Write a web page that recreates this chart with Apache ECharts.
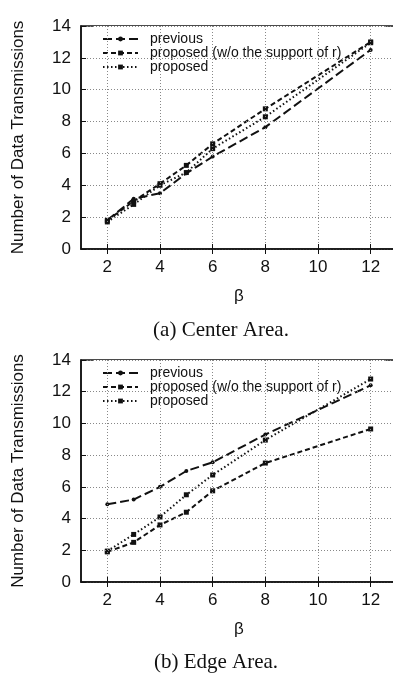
<!DOCTYPE html>
<html>
<head>
<meta charset="utf-8">
<script src="https://cdn.jsdelivr.net/npm/echarts@6/dist/echarts.min.js"></script>
<style>
  html, body { margin: 0; padding: 0; background: #fff; }
  #chart { width: 393px; height: 673px; }
</style>
</head>
<body>
<div id="chart"></div>
<script>
const betas = [2, 3, 4, 5, 6, 8, 12];
const xTicks = [2, 4, 6, 8, 10, 12];
const seriesNames = ['previous', 'proposed (w/o the support of r)', 'proposed'];

// (a) Center Area
const centerPrevious = [1.8, 3.15, 3.5, 4.75, 5.8, 7.65, 12.5];
const centerWithoutR = [1.8, 3.0, 4.1, 5.25, 6.6, 8.8, 13.0];
const centerProposed = [1.7, 2.8, 4.0, 4.8, 6.3, 8.3, 12.95];

// (b) Edge Area
const edgePrevious = [4.9, 5.2, 6.0, 7.0, 7.55, 9.3, 12.4];
const edgeWithoutR = [1.9, 2.5, 3.6, 4.4, 5.75, 7.5, 9.65];
const edgeProposed = [1.95, 3.0, 4.1, 5.5, 6.75, 8.95, 12.8];

const sans = '"Liberation Sans", Arial, sans-serif';
const serif = '"Liberation Serif", "Times New Roman", serif';

const looks = [
  {dash: [9, 4], symbol: 'circle', size: 4},
  {dash: [5, 3], symbol: 'rect', size: 5},
  {dash: [1.5, 2.5], symbol: 'rect', size: 5}
];

function pairs(ys) {
  return betas.map((x, i) => [x, ys[i]]);
}

function bottomAxis(g) {
  return {
    gridIndex: g, type: 'value', min: 1, max: 13, position: 'bottom', z: 3,
    name: 'β', nameLocation: 'middle', nameGap: 39,
    nameTextStyle: {fontSize: 17, color: '#111', fontFamily: sans},
    axisLine: {show: true, onZero: false, lineStyle: {color: '#111', width: 1.5}},
    axisTick: {show: true, inside: true, length: 5, customValues: xTicks, lineStyle: {color: '#111'}},
    axisLabel: {customValues: xTicks, margin: 10, fontSize: 17, color: '#111', fontFamily: sans},
    splitLine: {show: true, lineStyle: {color: '#888', width: 1, type: [1, 2]}}
  };
}

function topAxis(g) {
  return {
    gridIndex: g, type: 'value', min: 1, max: 13, position: 'top', z: 3,
    axisLine: {show: false},
    axisTick: {show: true, inside: true, length: 5, customValues: xTicks, lineStyle: {color: '#111'}},
    axisLabel: {show: false},
    splitLine: {show: false}
  };
}

function leftAxis(g) {
  return {
    gridIndex: g, type: 'value', min: 0, max: 14, interval: 2, z: 3,
    name: 'Number of Data Transmissions', nameLocation: 'middle', nameGap: 54,
    nameTextStyle: {fontSize: 17, color: '#111', fontFamily: sans},
    axisLine: {show: true, lineStyle: {color: '#111', width: 1.5}},
    axisTick: {show: true, inside: true, length: 5, lineStyle: {color: '#111'}},
    axisLabel: {margin: 10, fontSize: 17, color: '#111', fontFamily: sans},
    splitLine: {show: true, lineStyle: {color: '#888', width: 1, type: [1, 2]}}
  };
}

function makeSeries(g, lists) {
  return lists.map((ys, i) => ({
    name: seriesNames[i],
    type: 'line',
    xAxisIndex: g * 2,
    yAxisIndex: g,
    z: 2,
    data: pairs(ys),
    symbol: looks[i].symbol,
    symbolSize: looks[i].size,
    showSymbol: true,
    itemStyle: {color: '#111'},
    lineStyle: {color: '#111', width: 2, type: looks[i].dash},
    animation: false
  }));
}

function makeLegend(top) {
  return {
    data: seriesNames,
    orient: 'vertical',
    left: 93,
    top: top,
    z: 1,
    selectedMode: false,
    backgroundColor: '#fff',
    padding: [6, 44, 0, 9],
    itemWidth: 35,
    itemHeight: 6,
    itemGap: 0,
    textStyle: {fontSize: 14, color: '#111', fontFamily: sans, padding: [0, 0, 0, 7]}
  };
}

const chart = echarts.init(document.getElementById('chart'), null, {renderer: 'canvas'});

chart.setOption({
  animation: false,
  backgroundColor: '#fff',
  grid: [
    {left: 81, width: 316, top: 26, height: 223, outerBoundsMode: 'none', containLabel: false,
      show: true, borderColor: '#111', borderWidth: 1.5},
    {left: 81, width: 316, top: 360, height: 222, outerBoundsMode: 'none', containLabel: false,
      show: true, borderColor: '#111', borderWidth: 1.5}
  ],
  xAxis: [bottomAxis(0), topAxis(0), bottomAxis(1), topAxis(1)],
  yAxis: [leftAxis(0), leftAxis(1)],
  legend: [makeLegend(26), makeLegend(360)],
  series: [
    ...makeSeries(0, [centerPrevious, centerWithoutR, centerProposed]),
    ...makeSeries(1, [edgePrevious, edgeWithoutR, edgeProposed])
  ],
  graphic: [
    {type: 'text', x: 221, y: 330, style: {text: '(a) Center Area.', font: '21px ' + serif, fill: '#111', align: 'center', verticalAlign: 'middle'}},
    {type: 'text', x: 216, y: 662, style: {text: '(b) Edge Area.', font: '21px ' + serif, fill: '#111', align: 'center', verticalAlign: 'middle'}}
  ]
});

window.addEventListener('resize', () => chart.resize());
</script>
</body>
</html>
